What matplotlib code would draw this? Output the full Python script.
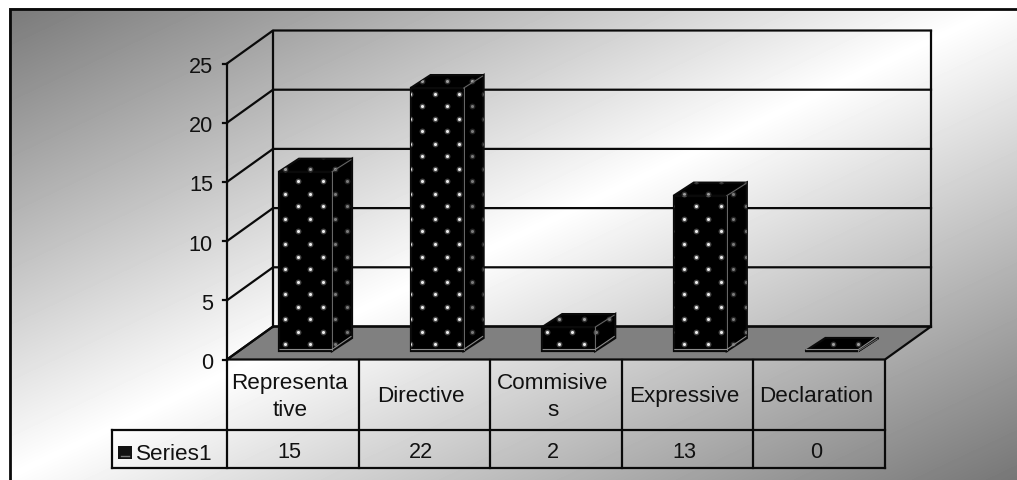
import numpy as np
import matplotlib
matplotlib.use("Agg")
import matplotlib.pyplot as plt
from matplotlib.patches import Polygon

plt.rcParams['font.family'] = ['Liberation Sans', 'DejaVu Sans']

categories = ["Representa\ntive", "Directive", "Commisive\ns", "Expressive", "Declaration"]
series_name = "Series1"
values = [15, 22, 2, 13, 0]
y_ticks = [0, 5, 10, 15, 20, 25]

W, H = 1017, 481
fig = plt.figure(figsize=(W / 100, H / 100), dpi=100, facecolor="white")
ax = fig.add_axes([0, 0, 1, 1])
ax.set_xlim(0, W)
ax.set_ylim(H, 0)
ax.axis("off")

# diagonal background gradient
yy, xx = np.mgrid[0:H, 0:W]
t = (xx / W + yy / H) / 2
g = 118 + (255 - 118) * (1 - np.abs(t - 0.5) * 2)
ax.imshow(g, cmap="gray", vmin=0, vmax=255, extent=(0, W, H, 0), aspect="auto", zorder=0)
ax.add_patch(Polygon([(0, 0), (W, 0), (W, 9), (9, 9), (9, H), (0, H)], fc="white", ec="none", zorder=0.5))
ax.plot([W, 9.5, 9.5], [9.5, 9.5, H], color="#0a0a0a", lw=2, zorder=1, solid_joinstyle="miter")

# plot geometry
xf0, xf1 = 227.0, 885.0
xb0, xb1 = 273.0, 931.0
yf0, yb0 = 360.5, 327.5
unit = 59.2 / 5
col = (xf1 - xf0) / len(categories)
LW = 1.6
K = "#0a0a0a"

def yf(v): return yf0 - v * unit
def yb(v): return yb0 - v * unit

# floor
ax.add_patch(Polygon([(xf0, yf0), (xb0, yb0), (xb1, yb0), (xf1, yf0)], fc="#808080", ec=K, lw=LW, zorder=2))
# walls and gridlines
for v in y_ticks:
    ax.plot([xf0, xb0, xb1], [yf(v), yb(v), yb(v)], color=K, lw=LW, zorder=2)
    ax.plot([xf0 - 4, xf0], [yf(v), yf(v)], color=K, lw=LW, zorder=2)
    ax.text(213, yf(v) + 3, str(v), ha="right", va="center", fontsize=15.6, color="#111111", zorder=6)
ax.plot([xf0, xf0], [yf(25), yf(0)], color=K, lw=LW, zorder=2)
ax.plot([xb0, xb0], [yb(25), yb(0)], color=K, lw=LW, zorder=2)
ax.plot([xb1, xb1], [yb(25), yb(0)], color=K, lw=LW, zorder=2)

# bars
bar_w, dx, dy = 53.0, 20.0, 13.0
base = 352.0
bar_unit = 11.95
lat_x0, lat_y0, lat_dx, lat_dy = 696.0, 332.7, 24.9, 12.53
jj, kk = np.mgrid[-30:3, -30:16]
lx = (lat_x0 + kk * lat_dx + (jj % 2) * lat_dx / 2).ravel()
ly = (lat_y0 + jj * lat_dy).ravel()

def dots(poly, bright):
    halo = ax.scatter(lx, ly, s=18, c=[(bright, bright, bright)], alpha=0.3, linewidths=0, zorder=4)
    core = ax.scatter(lx, ly, s=5, c=[(bright, bright, bright)], linewidths=0, zorder=4.1)
    halo.set_clip_path(poly)
    core.set_clip_path(poly)

for i, v in enumerate(values):
    x0 = xf0 + col * i + 52
    x1 = x0 + bar_w
    top = base - v * bar_unit
    front = Polygon([(x0, top), (x1, top), (x1, base), (x0, base)], fc="black", ec=K, lw=LW, zorder=3)
    side = Polygon([(x1, top), (x1 + dx, top - dy), (x1 + dx, base - dy), (x1, base)], fc="black", ec=K, lw=LW, zorder=3)
    roof = Polygon([(x0, top), (x0 + dx, top - dy), (x1 + dx, top - dy), (x1, top)], fc="black", ec=K, lw=LW, zorder=3)
    for p in (front, side, roof):
        ax.add_patch(p)
    dots(front, 0.92)
    dots(side, 0.48)
    dots(roof, 0.62)
    # thin highlights along the box edges
    hl = "#8c8c8c"
    ax.plot([x1, x1], [top, base - 1.5], color="#6a6a6a", lw=0.7, zorder=5)
    ax.plot([x1, x1 + dx - 1], [top, top - dy + 1], color="#6a6a6a", lw=0.7, zorder=5)
    ax.plot([x0 + 1, x1, x1 + dx - 1], [base - 1.5, base - 1.5, base - dy - 1.5], color=hl, lw=0.8, zorder=5)

# data table
row_top, row_mid, row_bot = 360.5, 430.5, 469.0
leg_left = 112.0
for i in range(len(categories) + 1):
    x = xf0 + col * i
    ax.plot([x, x], [row_top, row_bot], color=K, lw=LW, zorder=2)
ax.plot([leg_left, xf1], [row_mid, row_mid], color=K, lw=LW, zorder=2)
ax.plot([leg_left, xf1], [row_bot, row_bot], color=K, lw=LW, zorder=2)
ax.plot([leg_left, leg_left], [row_mid, row_bot], color=K, lw=LW, zorder=2)

for i, (c, v) in enumerate(zip(categories, values)):
    xc = xf0 + col * (i + 0.5) - 3
    ax.text(xc, 397, c, ha="center", va="center", fontsize=16.2, color="#111111", linespacing=1.32, zorder=6)
    ax.text(xc, 453, str(v), ha="center", va="center", fontsize=15.6, color="#111111", zorder=6)
ax.text(136, 455, series_name, ha="left", va="center", fontsize=16.2, color="#111111", zorder=6)
ax.add_patch(Polygon([(117.5, 447), (132, 447), (132, 460), (117.5, 460)], fc="#111111", ec="none", zorder=6))
ax.plot([121, 128.5], [457.3, 457.3], color="#777777", lw=1, zorder=7)

fig.savefig("out.png", dpi=100, facecolor="white")
